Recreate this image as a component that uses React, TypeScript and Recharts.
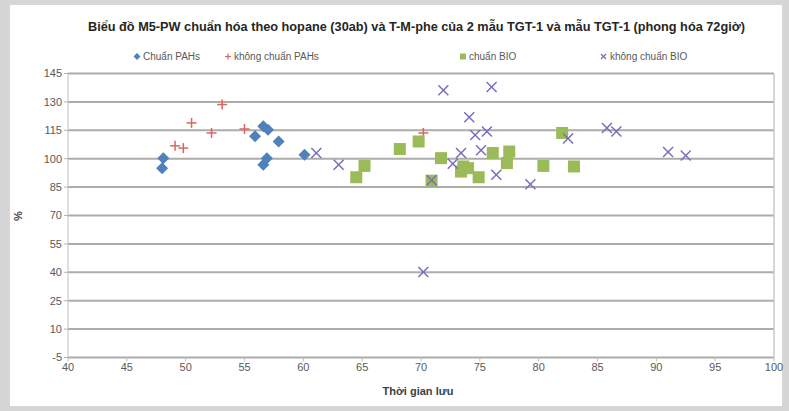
import React from 'react';
import { ScatterChart, Scatter, XAxis, YAxis, CartesianGrid, ReferenceLine } from 'recharts';

const title = 'Biểu đồ M5-PW chuẩn hóa theo hopane (30ab) và T-M-phe của 2 mẫu TGT-1 và mẫu TGT-1 (phong hóa 72giờ)';
const xLabel = 'Thời gian lưu';
const yLabel = '%';
const seriesNames = ['Chuẩn PAHs', 'không chuẩn PAHs', 'chuẩn BIO', 'không chuẩn BIO'];

const xTicks = [40, 45, 50, 55, 60, 65, 70, 75, 80, 85, 90, 95, 100];
const yTicks = [-5, 10, 25, 40, 55, 70, 85, 100, 115, 130, 145];

const chuanPAHsX = [48.1, 48.0, 55.9, 56.6, 57.0, 57.9, 56.9, 56.6, 60.1];
const chuanPAHsY = [100.3, 95.0, 111.8, 117.1, 115.3, 109.1, 100.3, 96.8, 102.1];

const khongPAHsX = [49.1, 49.8, 50.5, 52.2, 53.1, 55.0, 70.2];
const khongPAHsY = [106.8, 105.6, 118.9, 113.6, 128.6, 115.7, 113.6];

const chuanBIOX = [68.2, 69.8, 65.2, 64.5, 70.9, 71.7, 73.6, 74.0, 73.4, 74.9, 76.1, 77.5, 77.3, 80.4, 83.0, 82.0];
const chuanBIOY = [105.1, 109.1, 96.2, 90.2, 88.4, 100.3, 95.9, 95.0, 93.2, 90.2, 103.0, 103.8, 97.7, 96.2, 95.9, 113.6];

const khongBIOX = [61.1, 63.0, 71.9, 76.0, 74.1, 74.6, 75.6, 73.4, 72.7, 75.1, 76.4, 79.3, 70.9, 82.5, 85.8, 86.6, 91.0, 92.5, 70.2];
const khongBIOY = [103.0, 96.8, 136.2, 137.9, 121.9, 112.5, 114.4, 103.0, 97.3, 104.5, 91.5, 86.5, 88.6, 110.7, 116.2, 114.4, 103.5, 101.7, 40.2];

const zip = (xs: number[], ys: number[]) => xs.map((x, i) => ({ x, y: ys[i] }));

const BLUE = '#4F81BD';
const RED = '#D9675E';
const GREEN = '#9BBB59';
const PURPLE = '#7A6DBE';
const FONT = "'Liberation Sans Narrow', 'Liberation Sans', Arial, sans-serif";

const Diamond = (p: any) => {
  const { cx, cy } = p;
  const r = 6;
  return <polygon points={`${cx},${cy - r} ${cx + r},${cy} ${cx},${cy + r} ${cx - r},${cy}`} fill={BLUE} />;
};
const Plus = (p: any) => {
  const { cx, cy } = p;
  const r = 5;
  return (
    <g stroke={RED} strokeWidth={1.5}>
      <line x1={cx - r} y1={cy} x2={cx + r} y2={cy} />
      <line x1={cx} y1={cy - r} x2={cx} y2={cy + r} />
    </g>
  );
};
const Square = (p: any) => {
  const { cx, cy } = p;
  const r = 6;
  return <rect x={cx - r} y={cy - r} width={2 * r} height={2 * r} fill={GREEN} />;
};
const Cross = (p: any) => {
  const { cx, cy } = p;
  const r = 5;
  return (
    <g stroke={PURPLE} strokeWidth={1.5}>
      <line x1={cx - r} y1={cy - r} x2={cx + r} y2={cy + r} />
      <line x1={cx - r} y1={cy + r} x2={cx + r} y2={cy - r} />
    </g>
  );
};

export default function App() {
  return (
    <div style={{ position: 'absolute', left: 0, top: 0, width: 789, height: 411, background: '#d6d6d6', fontFamily: FONT }}>
      <div style={{ position: 'absolute', left: 10, top: 5, width: 772, height: 401, background: '#ffffff' }} />
      <div style={{ position: 'absolute', left: 0, top: 0 }}>
        <ScatterChart width={789} height={411} margin={{ top: 73.5, right: 15, bottom: 23.5, left: 28 }}>
          <CartesianGrid horizontal={true} vertical={false} stroke="#acacac" strokeWidth={2} />
          <XAxis
            type="number"
            dataKey="x"
            domain={[40, 100]}
            ticks={xTicks}
            interval={0}
            axisLine={false}
            tickLine={{ stroke: '#bfbfbf' }}
            tickSize={4}
            height={30}
            tick={{ fontSize: 11, fill: '#595959', fontFamily: FONT }}
          />
          <YAxis
            type="number"
            dataKey="y"
            domain={[-5, 145]}
            ticks={yTicks}
            interval={0}
            axisLine={{ stroke: '#bfbfbf' }}
            tickLine={{ stroke: '#b3b3b3' }}
            tickSize={4}
            width={40}
            tick={{ fontSize: 11, fill: '#595959', fontFamily: FONT }}
          />
          <ReferenceLine x={100} stroke="#c8c8c8" strokeWidth={1.5} />
          <Scatter name={seriesNames[0]} data={zip(chuanPAHsX, chuanPAHsY)} shape={Diamond} isAnimationActive={false} />
          <Scatter name={seriesNames[1]} data={zip(khongPAHsX, khongPAHsY)} shape={Plus} isAnimationActive={false} />
          <Scatter name={seriesNames[2]} data={zip(chuanBIOX, chuanBIOY)} shape={Square} isAnimationActive={false} />
          <Scatter name={seriesNames[3]} data={zip(khongBIOX, khongBIOY)} shape={Cross} isAnimationActive={false} />
        </ScatterChart>
      </div>
      <svg width={789} height={411} style={{ position: 'absolute', left: 0, top: 0, pointerEvents: 'none' }}>
        <text x={88} y={31} fontSize={12} fontWeight="bold" fill="#262626" fontFamily={FONT} textLength={657} lengthAdjust="spacingAndGlyphs">
          {title}
        </text>
        <g fontSize={10} fill="#595959" fontFamily={FONT}>
          <polygon points="137,53 140.5,56.5 137,60 133.5,56.5" fill={BLUE} />
          <text x={143} y={60}>{seriesNames[0]}</text>
          <g stroke={RED} strokeWidth={1.2}>
            <line x1={225} y1={56.5} x2={231} y2={56.5} />
            <line x1={228} y1={53.5} x2={228} y2={59.5} />
          </g>
          <text x={234} y={60}>{seriesNames[1]}</text>
          <rect x={460} y={53.5} width={6} height={6} fill={GREEN} />
          <text x={469} y={60}>{seriesNames[2]}</text>
          <g stroke={PURPLE} strokeWidth={1.2}>
            <line x1={601} y1={54} x2={606} y2={59} />
            <line x1={601} y1={59} x2={606} y2={54} />
          </g>
          <text x={610} y={60}>{seriesNames[3]}</text>
        </g>
        <text x={418} y={395} textAnchor="middle" fontSize={11} fontWeight="bold" fill="#404040" fontFamily={FONT}>{xLabel}</text>
        <text x={0} y={0} transform="translate(22,216) rotate(-90)" textAnchor="middle" fontSize={11} fontWeight="bold" fill="#404040" fontFamily={FONT}>{yLabel}</text>
      </svg>
    </div>
  );
}
